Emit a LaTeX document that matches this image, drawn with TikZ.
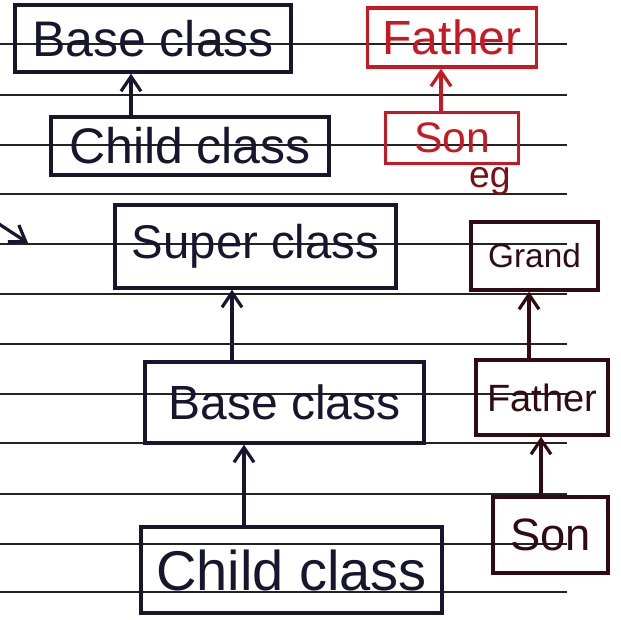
\documentclass[tikz,border=0pt]{standalone}
\usepackage{fontspec}
\setmainfont{Liberation Sans}
\usepackage{tikz}
\usetikzlibrary{arrows.meta}
\usetikzlibrary{positioning}

\definecolor{ink}{RGB}{22,22,46}
\definecolor{redink}{RGB}{200,25,35}
\definecolor{maroonink}{RGB}{48,12,18}
\definecolor{ruleline}{RGB}{35,35,35}

\tikzset{
  classbox/.style={draw, line width=2.6pt, inner sep=0pt, align=center},
  upar/.style={-{Straight Barb[length=11pt,width=15pt]}, line width=2.4pt},
}

\begin{document}
\begin{tikzpicture}[x=0.75pt,y=0.75pt,yscale=-1,xscale=1]
\useasboundingbox (0,0) rectangle (621,619);
\fill[white] (0,0) rectangle (621,619);

%Ruled lines of the notebook
\foreach \ly in {44,95,145,194,244,294,344,394,443,494,544,592}
  \draw[ruleline, line width=1.2pt] (0,\ly) -- (567,\ly);

%Left column
\node [classbox, color=ink, minimum width=207pt, minimum height=50.25pt, font=\fontsize{37.5}{40}\selectfont] (base1) at (153,38.5) {Base class};
\node [classbox, color=ink, minimum width=208.5pt, minimum height=43.5pt, font=\fontsize{37.5}{40}\selectfont] (child1) at (190,146) {Child class};
\node [classbox, color=ink, minimum width=210.75pt, minimum height=62.25pt, font=\fontsize{35.5}{38}\selectfont] (super) at (255.5,246.5) {Super class};
\node [classbox, color=ink, minimum width=209.25pt, minimum height=60.75pt, font=\fontsize{36}{38}\selectfont] (base2) at (284.5,402.5) {Base class};
\node [classbox, color=ink, minimum width=225.75pt, minimum height=64.5pt, font=\fontsize{42}{44}\selectfont] (child2) at (291.5,570) {Child class};

\draw [upar, ink] (child1.north -| 131,0) -- (base1.south -| 131,0);
\draw [upar, ink] (base2.north -| 232,0) -- (super.south -| 232,0);
\draw [upar, ink] (child2.north -| 244,0) -- (base2.south -| 244,0);

%Right column, red example
\node [classbox, color=redink, minimum width=126.75pt, minimum height=44.25pt, font=\fontsize{36}{38}\selectfont] (father1) at (452,37.5) {Father};
\node [classbox, color=redink, minimum width=99.75pt, minimum height=38.25pt, font=\fontsize{32}{34}\selectfont] (son1) at (452,138) {Son};
\draw [upar, redink] (son1.north -| 441,0) -- (father1.south -| 441,0);
\node [color=redink!60!black, inner sep=0pt, font=\fontsize{28}{30}\selectfont] (eg) at (490,181) {eg};

%Right column, lower example
\node [classbox, color=maroonink, minimum width=95.25pt, minimum height=51pt, font=\fontsize{25}{27}\selectfont] (grand) at (534.5,256) {Grand};
\node [classbox, color=maroonink, minimum width=99pt, minimum height=56.25pt, font=\fontsize{28.5}{30}\selectfont] (father2) at (542,397.5) {Father};
\node [classbox, color=maroonink, minimum width=86.25pt, minimum height=57pt, font=\fontsize{34}{36}\selectfont] (son2) at (550.5,535) {Son};
\draw [upar, maroonink] (father2.north -| 529,0) -- (grand.south -| 529,0);
\draw [upar, maroonink] (son2.north -| 541,0) -- (father2.south -| 541,0);

%Arrow entering from the left edge
\coordinate (arrtail) at (-4,222);
\coordinate (arrtip) at (28,243);
\draw [upar, ink] (arrtail) -- (arrtip);
\end{tikzpicture}
\end{document}
